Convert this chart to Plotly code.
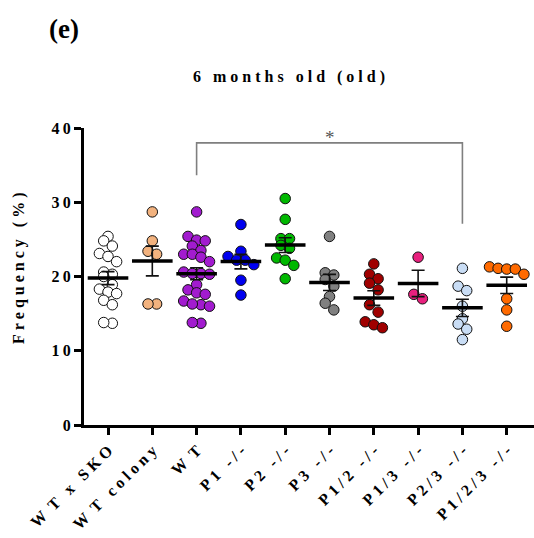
import numpy as np
import plotly.graph_objects as go

# Group names (tick labels) and per-animal frequencies (%)
groups = ["WT x SKO", "WT colony", "WT", "P1 -/-", "P2 -/-", "P3 -/-",
          "P1/2 -/-", "P1/3 -/-", "P2/3 -/-", "P1/2/3 -/-"]

wt_x_sko = [25.4, 24.8, 24.1, 23.1, 22.7, 22.0, 20.6, 20.3, 20.0, 18.9, 18.3,
            17.9, 17.7, 16.8, 16.2, 13.7, 13.8]
wt_colony = [28.7, 24.8, 23.4, 23.0, 16.3, 16.3]
wt = [28.7, 25.4, 24.9, 24.8, 24.1, 23.5, 23.0, 23.0, 22.6, 22.0, 20.6, 20.4,
      20.4, 20.3, 18.9, 18.2, 17.8, 17.6, 16.7, 16.2, 16.3, 16.0, 13.7, 13.8]
p1 = [27.0, 23.4, 22.7, 22.2, 22.2, 21.6, 19.5, 17.5]
p2 = [30.5, 27.7, 25.1, 25.1, 24.2, 23.8, 22.5, 22.2, 21.5, 19.7]
p3 = [25.4, 20.5, 20.2, 19.6, 18.7, 17.3, 16.4, 15.5]
p12 = [21.7, 20.3, 19.7, 19.1, 18.2, 16.2, 15.2, 13.9, 13.5, 13.1]
p13 = [22.6, 17.6, 17.0]
p23 = [21.1, 18.7, 18.1, 16.0, 14.3, 13.6, 12.9, 11.5]
p123 = [21.3, 21.1, 21.0, 21.0, 20.3, 17.0, 15.5, 13.3]

series = [wt_x_sko, wt_colony, wt, p1, p2, p3, p12, p13, p23, p123]
fills = ["#FFFFFF", "#F2B27E", "#A21BCF", "#0000F0", "#00B800", "#808080",
         "#A00000", "#E8207E", "#C9DDF5", "#FF6A00"]

y_ticks = [0, 10, 20, 30, 40]

# Comparison bracket: WT vs P2/3
sig_pair = (2, 8)
sig_label = "*"

FONT = "Liberation Serif"
W, H = 534, 538
M_L, M_R, M_T, M_B = 84, 0, 128, 113
X_RANGE = [-0.542, 9.616]
Y_RANGE = [0, 40]
px_x = (W - M_L - M_R) / (X_RANGE[1] - X_RANGE[0])
px_y = (H - M_T - M_B) / (Y_RANGE[1] - Y_RANGE[0])
MARKER = 10.5


def spaced(text, gap="\u2005"):
    out = text[0]
    for prev, ch in zip(text, text[1:]):
        out += ("\u2002" if prev + ch == "WT" else gap) + ch
    return out


def rows_layout(values, diam):
    """Scatter-dot-plot offsets: points falling in the same horizontal band
    are spread side by side, centred on the category."""
    v = np.asarray(values, dtype=float)
    order = np.argsort(v)
    band = 0.78 * diam / px_y
    step = 0.82 * diam / px_x
    offs = np.zeros(len(v))
    row = []
    start = None

    def flush(r):
        n = len(r)
        for k, idx in enumerate(sorted(r, key=lambda j: -v[j])):
            offs[idx] = (k - (n - 1) / 2) * step

    for idx in order:
        if start is None or v[idx] - start > band:
            if row:
                flush(row)
            row = [idx]
            start = v[idx]
        else:
            row.append(idx)
    if row:
        flush(row)
    return offs


fig = go.Figure()

for i, (vals, col) in enumerate(zip(series, fills)):
    v = np.array(vals, dtype=float)
    off = rows_layout(v, MARKER)
    fig.add_trace(go.Scatter(
        x=i + off, y=v, mode="markers",
        marker=dict(size=MARKER, color=col, line=dict(color="#111111", width=1)),
        cliponaxis=False, hoverinfo="y", showlegend=False))

means = [float(np.mean(s)) for s in series]
sems = [float(np.std(s, ddof=1) / np.sqrt(len(s))) for s in series]

# SEM whiskers
fig.add_trace(go.Scatter(
    x=list(range(len(groups))), y=means, mode="markers",
    marker=dict(size=1, color="rgba(0,0,0,0)"),
    error_y=dict(type="data", array=sems, visible=True, color="#111111",
                 thickness=1.6, width=6.5),
    cliponaxis=False, hoverinfo="skip", showlegend=False))
# Mean bars
fig.add_trace(go.Scatter(
    x=list(range(len(groups))), y=means, mode="markers",
    marker=dict(symbol="line-ew", size=29, color="#000000",
                line=dict(color="#000000", width=3.5)),
    cliponaxis=False, hoverinfo="y", showlegend=False))

# Significance bracket
a, b = sig_pair
top = 38.0
fig.add_shape(type="path",
              path=f"M {a},{33.65} L {a},{top} L {b},{top} L {b},{27.1}",
              xref="x", yref="y", line=dict(color="#7F7F7F", width=1.6))
fig.add_annotation(x=(a + b) / 2, y=top - 0.96, xref="x", yref="y",
                   text=sig_label, showarrow=False, yanchor="bottom",
                   font=dict(family=FONT, size=19, color="#555555"))


def px_to_paper(xp, yp):
    return ((xp - M_L) / (W - M_L - M_R), (H - M_B - yp) / (H - M_T - M_B))


# Panel letter
xp, yp = px_to_paper(64, 29)
fig.add_annotation(x=xp, y=yp, xref="paper", yref="paper", text="<b>(e)</b>",
                   showarrow=False, xanchor="center", yanchor="middle",
                   font=dict(family=FONT, size=27, color="#000000"))
# Title
xp, yp = px_to_paper(289, 77)
fig.add_annotation(x=xp, y=yp, xref="paper", yref="paper",
                   text="<b>" + spaced("6 months old (old)") + "</b>",
                   showarrow=False, xanchor="center", yanchor="middle",
                   font=dict(family=FONT, size=16, color="#000000"))
# Y axis title
xp, yp = px_to_paper(19, 268)
fig.add_annotation(x=xp, y=yp, xref="paper", yref="paper",
                   text="<b>" + spaced("Frequency (%)") + "</b>",
                   textangle=-90, showarrow=False, xanchor="center", yanchor="middle",
                   font=dict(family=FONT, size=16, color="#000000"))

fig.update_layout(
    width=W, height=H,
    margin=dict(l=M_L, r=M_R, t=M_T, b=M_B),
    paper_bgcolor="white", plot_bgcolor="white",
    font=dict(family=FONT, color="#000000"),
    xaxis=dict(range=X_RANGE, showgrid=False, zeroline=False,
               showline=True, linecolor="#000000", linewidth=3,
               ticks="outside", ticklen=7, tickwidth=3, tickcolor="#000000",
               tickmode="array", tickvals=list(range(len(groups))),
               ticktext=["<b>" + spaced(g) + "</b>" for g in groups],
               tickangle=-45, tickfont=dict(family=FONT, size=16, color="#000000")),
    yaxis=dict(range=Y_RANGE, showgrid=False, zeroline=False,
               showline=True, linecolor="#000000", linewidth=3,
               ticks="outside", ticklen=7, tickwidth=3, tickcolor="#000000",
               tickmode="array", tickvals=y_ticks,
               ticktext=["<b>" + spaced(str(t), "\u2009") + "</b>" for t in y_ticks],
               tickfont=dict(family=FONT, size=16, color="#000000")),
)

fig.write_html("out.html")
